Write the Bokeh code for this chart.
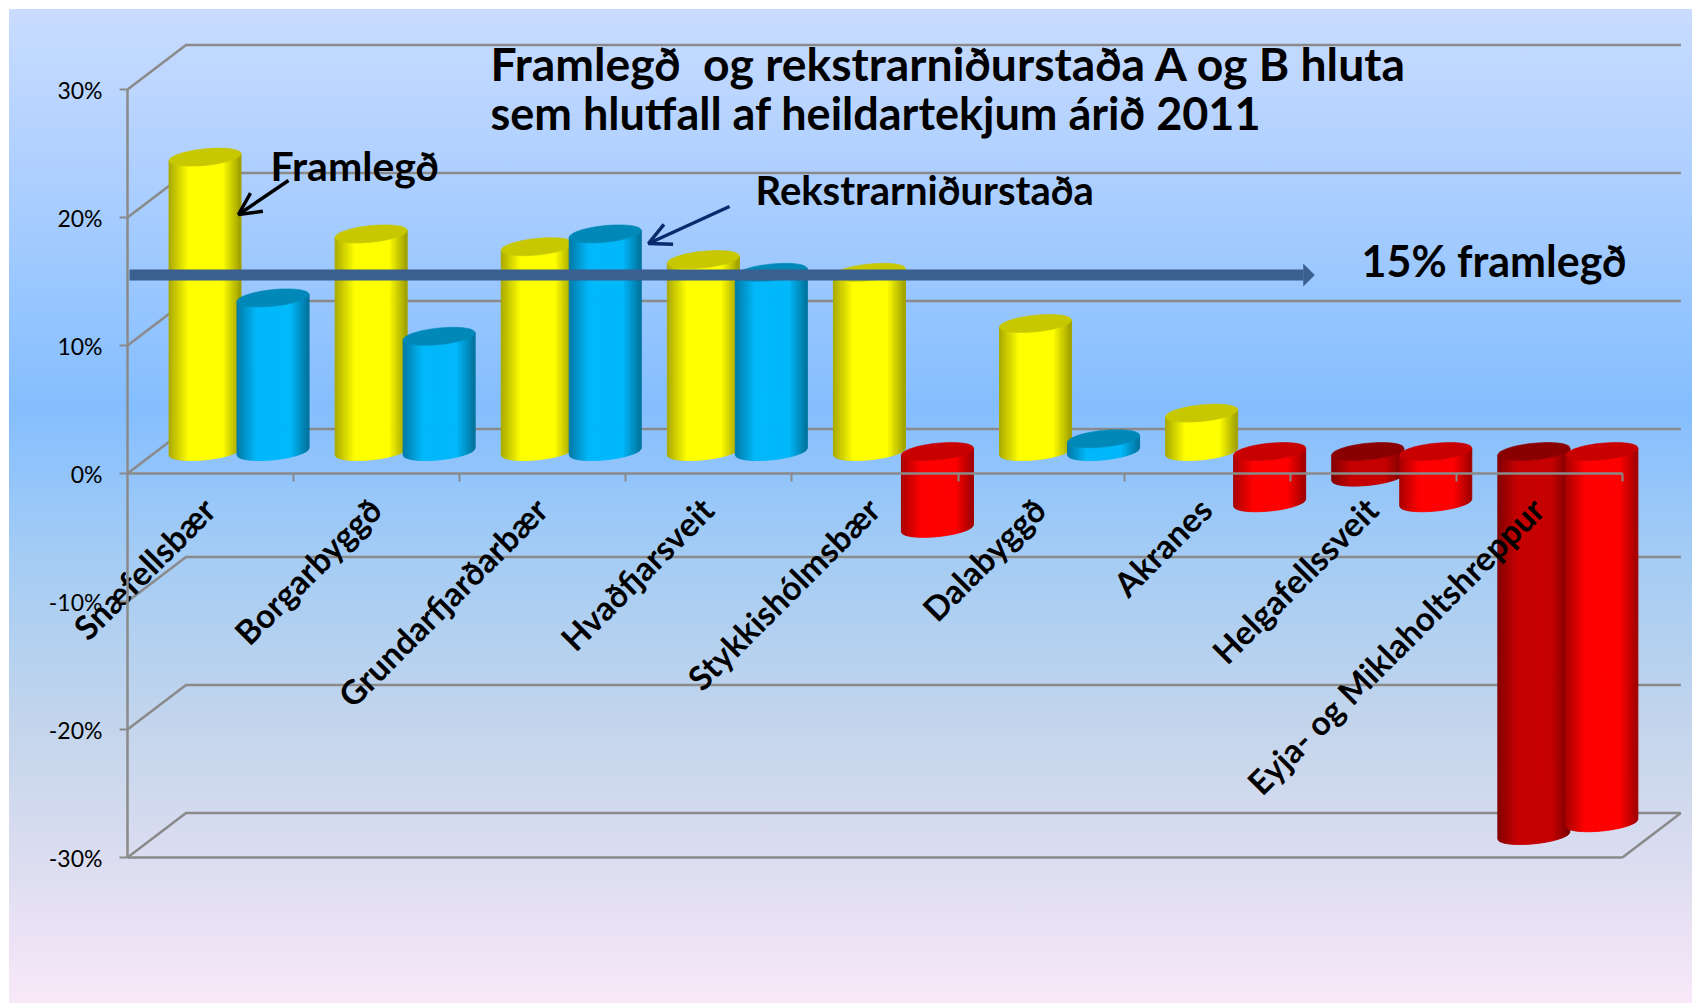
import math
from bokeh.embed import file_html
from bokeh.resources import INLINE
from bokeh.plotting import figure
from bokeh.models import Arrow, OpenHead, FixedTicker, PrintfTickFormatter, Label

categories = ["Snæfellsbær", "Borgarbyggð", "Grundarfjarðarbær", "Hvaðfjarsveit", "Stykkishólmsbær",
              "Dalabyggð", "Akranes", "Helgafellssveit", "Eyja- og Miklaholtshreppur"]
framlegd = [23, 17, 16, 15, 14, 10, 3, -2, -30]
rekstrarnidurstada = [12, 9, 17, 14, -6, 1, -4, -4, -29]
y_ticks = [-30, -20, -10, 0, 10, 20, 30]
target = 15.5

# layout constants (pixels)
FW, FH = 1692, 1003
AX_L = 127
CAT_PX = 166.1
Y_PX = 12.8
Y0_PX = 473
DEPTH_X, DEPTH_Y = 58.5, 44.5
frame_h = 880

def dx(px): return px / CAT_PX
def dy(px): return px / Y_PX

x_start = -AX_L / CAT_PX
x_end = (FW - AX_L) / CAT_PX
y_start = -(frame_h - Y0_PX) / Y_PX
y_end = Y0_PX / Y_PX

p = figure(width=FW, height=FH, frame_width=FW, frame_height=frame_h,
           x_range=(x_start, x_end), y_range=(y_start, y_end), toolbar_location=None,
           output_backend="svg", min_border_left=0, min_border_right=0,
           min_border_top=0, min_border_bottom=FH - frame_h,
           border_fill_alpha=0, background_fill_alpha=0, outline_line_color=None,
           styles={"background": "linear-gradient(180deg,#C9DCFF 0%,#A8CDFF 20%,#84BEFF 40%,#A4CCF4 55%,#C3D5EC 72%,#DCDDF0 86%,#F8E8F9 100%) 9px 9px / 1683px 994px no-repeat #FFFFFF"})
p.grid.visible = False

GRID = "#8A8A8A"
n = len(categories)
xs, ys = [], []
for t in y_ticks:
    xs.append([0, dx(DEPTH_X), n + dx(DEPTH_X)])
    ys.append([t, t + dy(DEPTH_Y), t + dy(DEPTH_Y)])
xs.append([n, n + dx(DEPTH_X)])
ys.append([min(y_ticks), min(y_ticks) + dy(DEPTH_Y)])
xs.append([0, n])
ys.append([min(y_ticks), min(y_ticks)])
p.multi_line(xs, ys, line_color=GRID, line_width=2.5)

# cylinders
HALF_W = 36.0
B = 8.3
S = 3.5
STRIPS = 30
OFF_X, OFF_Y = 28.5, 22.0
SPACING = 34.0
COLS = {"yellow": ((255, 255, 0), "#C8C800"),
        "blue": ((0, 184, 250), "#0089B8"),
        "dark": ((198, 0, 0), "#8A0000"),
        "red": ((255, 0, 0), "#C80000")}

def shade(rgb, u):
    e = abs(u)
    if u < 0:
        f = 1 - 0.34 * max(0, (e - 0.45) / 0.55)
    else:
        f = 1 - 0.38 * max(0, (e - 0.5) / 0.5)
    return "#%02X%02X%02X" % tuple(int(c * f) for c in rgb)

def lower(u):
    return -B * math.sqrt(max(0, 1 - u * u)) + S * u

for i, (v1, v2) in enumerate(zip(framlegd, rekstrarnidurstada)):
    for side, v, pos, neg in ((-1, v1, "yellow", "dark"), (1, v2, "blue", "red")):
        key = pos if v >= 0 else neg
        body, cap = COLS[key]
        xc_px = OFF_X + side * SPACING
        y_base = OFF_Y
        top_px = max(v, 0) * Y_PX + y_base
        bot_px = min(v, 0) * Y_PX + y_base
        px0 = (i + 0.5) * CAT_PX + xc_px
        bx, by, bc = [], [], []
        for k in range(STRIPS):
            u0 = -1 + 2 * k / STRIPS
            u1 = -1 + 2 * (k + 1) / STRIPS
            us = [u0 + (u1 - u0) * j / 3 for j in range(4)]
            lo = [((px0 + HALF_W * u) / CAT_PX, (bot_px + lower(u)) / Y_PX) for u in us]
            hi = [((px0 + HALF_W * u) / CAT_PX, (top_px + lower(u)) / Y_PX) for u in reversed(us)]
            poly = lo + hi
            bx.append([q[0] for q in poly])
            by.append([q[1] for q in poly])
            bc.append(shade(body, (u0 + u1) / 2))
        p.patches(bx, by, fill_color=bc, line_color=bc, line_width=1.0)
        ex, ey = [], []
        for j in range(60):
            t = 2 * math.pi * j / 60
            ex.append((px0 + HALF_W * math.cos(t)) / CAT_PX)
            ey.append((top_px + B * math.sin(t) + S * math.cos(t)) / Y_PX)
        p.patch(ex, ey, fill_color=cap, line_color=cap, line_width=0.6)

# axes
ya = p.yaxis[0]
ya.ticker = FixedTicker(ticks=y_ticks)
ya.formatter = PrintfTickFormatter(format="%d%%")
ya.fixed_location = 0
ya.bounds = (min(y_ticks), max(y_ticks))
ya.axis_line_color = GRID
ya.axis_line_width = 2.5
ya.major_tick_line_color = GRID
ya.major_tick_line_width = 2
ya.major_tick_out = 8
ya.major_tick_in = 0
ya.minor_tick_line_color = None
ya.major_label_standoff = 17
ya.major_label_text_font = "Lato"
ya.major_label_text_font_size = "23px"
ya.major_label_text_color = "#000000"

xa = p.xaxis[0]
centers = [round(i + 0.49, 3) for i in range(n)]
xa.ticker = FixedTicker(ticks=centers, minor_ticks=list(range(1, n + 1)))
xa.major_label_overrides = {c: s for c, s in zip(centers, categories)}
xa.fixed_location = 0
xa.bounds = (0, n)
xa.axis_line_color = GRID
xa.axis_line_width = 2.5
xa.major_tick_line_color = None
xa.major_tick_out = 0
xa.major_tick_in = 0
xa.minor_tick_line_color = GRID
xa.minor_tick_line_width = 2
xa.minor_tick_out = 8
xa.minor_tick_in = 0
xa.major_label_orientation = math.pi / 4
xa.major_label_standoff = 22
xa.major_label_text_font = "Lato"
xa.major_label_text_font_style = "bold"
xa.major_label_text_font_size = "33.5px"
xa.major_label_text_color = "#000000"

# annotations
def X(page_px): return (page_px - AX_L) / CAT_PX
def Y(page_py): return (Y0_PX - page_py) / Y_PX

def txt(page_x, page_base, s, size):
    p.add_layout(Label(x=X(page_x), y=Y(page_base), text=s, text_font="Lato", text_font_style="bold",
                       text_font_size=size, text_color="#000000", text_baseline="alphabetic", text_align="left"))

txt(490, 62, "Framlegð\u00a0 og rekstrarniðurstaða A og B hluta", "46.3px")
txt(490, 112, "sem hlutfall af heildartekjum árið 2011", "45px")
txt(270, 165, "Framlegð", "41px")
txt(755, 189, "Rekstrarniðurstaða", "40px")
txt(1361, 260, "15% framlegð", "43px")

# 15% target line with its arrow head
LINE = "#3B5F8F"
p.line([X(129), X(1303)], [target, target], line_color=LINE, line_width=11)
p.patch([X(1303), X(1314), X(1303)], [target + dy(11), target, target - dy(11)], fill_color=LINE, line_color=LINE, line_width=0.5)

p.add_layout(Arrow(end=OpenHead(size=22, line_color="#000000", line_width=3.5),
                   x_start=X(288), y_start=Y(180), x_end=X(238), y_end=Y(214),
                   line_color="#000000", line_width=3.5))
p.add_layout(Arrow(end=OpenHead(size=22, line_color="#0A2A6E", line_width=3.5),
                   x_start=X(729), y_start=Y(206), x_end=X(648), y_end=Y(243),
                   line_color="#0A2A6E", line_width=3.5))

open("out.html", "w").write(file_html(p, INLINE))
